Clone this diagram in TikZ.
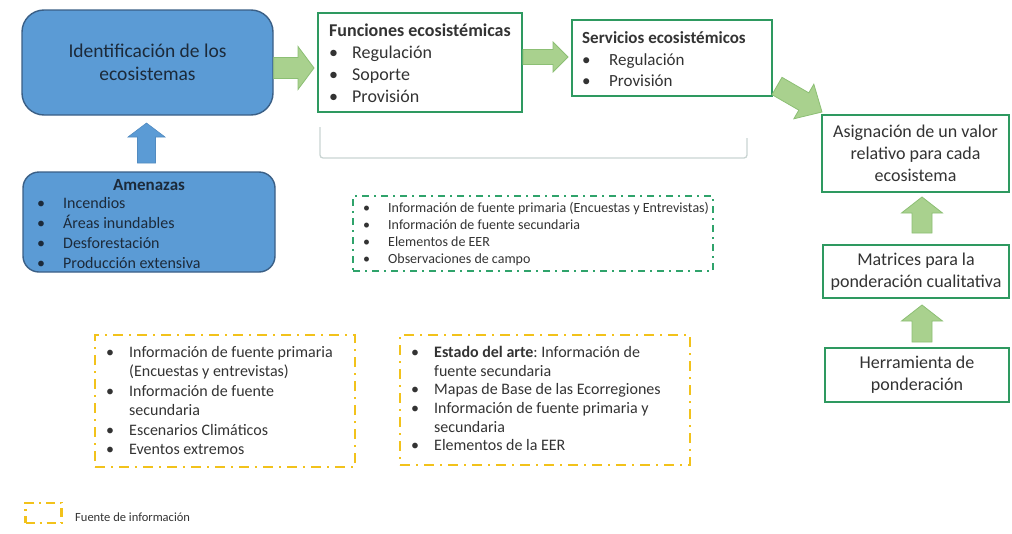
\documentclass[tikz,border=0pt]{standalone}
\usepackage{fontspec}
\setmainfont{Carlito}
\usetikzlibrary{calc}
\definecolor{bluefill}{HTML}{5B9BD5}
\definecolor{blueline}{HTML}{3A5F86}
\definecolor{bluetext}{HTML}{1C2A3A}
\definecolor{gbox}{HTML}{2E9960}
\definecolor{garrowfill}{HTML}{A9D18E}
\definecolor{garrowline}{HTML}{8CBF74}
\definecolor{gdash}{HTML}{2FA36B}
\definecolor{ydash}{HTML}{F2C21B}
\definecolor{txt}{HTML}{333333}
\definecolor{bracketc}{HTML}{C9D4D2}
\newcommand\bul[2][23pt]{\makebox[#1][l]{\textbullet}#2}
\newcommand\fs[2]{\fontsize{#1}{#2}\selectfont}
% #1 style, #2 tail, #3 tip, #4 half shaft, #5 half head, #6 head length
\newcommand\blockarrow[6]{%
  \coordinate (bah) at ($(#3)!#6!(#2)$);
  \path[#1] ($(#2)!#4!90:(#3)$) -- ($(bah)!#4!90:(#3)$) -- ($(bah)!#5!90:(#3)$)
    -- (#3) -- ($(bah)!#5!-90:(#3)$) -- ($(bah)!#4!-90:(#3)$) -- ($(#2)!#4!-90:(#3)$) -- cycle;}
\begin{document}
\begin{tikzpicture}[x=1pt,y=-1pt,
  bluebox/.style={draw=blueline,fill=bluefill,line width=1.4pt,text=bluetext,inner sep=0pt},
  greenbox/.style={draw=gbox,line width=1.8pt,fill=white,inner sep=0pt,text=txt},
  gdashbox/.style={draw=gdash,line width=2.4pt,dash pattern=on 7pt off 5pt on 2pt off 5pt,inner sep=0pt},
  ydashbox/.style={draw=ydash,line width=2.6pt,dash pattern=on 10pt off 6pt on 2pt off 6pt,inner sep=0pt},
  listtext/.style={align=left,inner sep=0pt,text=txt,anchor=west},
  garrow/.style={fill=garrowfill,draw=garrowline,line width=0.8pt,line join=miter},
  barrow/.style={fill=bluefill,draw=bluefill!90!black,line width=0.6pt}]
\useasboundingbox (0,0) rectangle (1012,533);

% blue boxes
\node[bluebox,rounded corners=22pt,minimum width=251pt,minimum height=105pt,align=center,font=\fs{19.5}{23}]
  (ident) at (147.5,62.5) {Identificación de los\\ecosistemas};
\node[bluebox,rounded corners=16pt,minimum width=252pt,minimum height=100pt] (amen) at (149,222) {};
\node[inner sep=0pt,text=bluetext,font=\fs{17}{20}\bfseries] (amentitle) at (149,185) {Amenazas};
\node[listtext,text=bluetext,font=\fs{16}{20}] (amenlist) at (37,233)
  {\bul[26pt]{Incendios}\\\bul[26pt]{Áreas inundables}\\\bul[26pt]{Desforestación}\\\bul[26pt]{Producción extensiva}};

% green boxes
\node[greenbox,minimum width=204pt,minimum height=99pt] (func) at (420,62.5) {};
\node[listtext,font=\fs{18}{22}] (funclist) at (329,63.5)
  {\textbf{Funciones ecosistémicas}\\\bul{Regulación}\\\bul{Soporte}\\\bul{Provisión}};
\node[greenbox,minimum width=200pt,minimum height=76pt] (serv) at (672,58) {};
\node[listtext,font=\fs{17}{21.5}] (servlist) at (582,59.5)
  {\textbf{Servicios ecosistémicos}\\\bul[27pt]{Regulación}\\\bul[27pt]{Provisión}};

\node[greenbox,minimum width=187pt,minimum height=77pt,align=center,font=\fs{18}{22}] (asig) at (915.5,153.5)
  {Asignación de un valor\\relativo para cada\\ecosistema};
\node[greenbox,minimum width=186pt,minimum height=53pt,align=center,font=\fs{18}{22}] (matr) at (916,271.5)
  {Matrices para la\\ponderación cualitativa};
\node[greenbox,minimum width=184pt,minimum height=54pt,align=center,font=\fs{18}{22}] (herr) at (917,375)
  {Herramienta de\\ponderación};

% bracket under functions/services
\draw[bracketc,line width=1.3pt,rounded corners=3pt] (320,127) -- (320,158) -- (747,158) -- (747,138);

% green dashed info box
\node[gdashbox,minimum width=360pt,minimum height=75pt] (ginfo) at (533,233.5) {};
\node[listtext,font=\fs{14}{17.3}] (ginfolist) at (363,234)
  {\bul[25pt]{Información de fuente primaria (Encuestas y Entrevistas)}\\
   \bul[25pt]{Información de fuente secundaria}\\
   \bul[25pt]{Elementos de EER}\\
   \bul[25pt]{Observaciones de campo}};

% yellow dashed boxes
\node[ydashbox,minimum width=260pt,minimum height=132pt] (yinfo1) at (225,401) {};
\node[listtext,font=\fs{16}{19.4}] (yinfo1list) at (106,400.5)
  {\bul{Información de fuente primaria}\\\hspace*{23pt}(Encuestas y entrevistas)\\
   \bul{Información de fuente}\\\hspace*{23pt}secundaria\\
   \bul{Escenarios Climáticos}\\\bul{Eventos extremos}};
\node[ydashbox,minimum width=290pt,minimum height=130pt] (yinfo2) at (545,400) {};
\node[listtext,font=\fs{16}{18.7}] (yinfo2list) at (411,398.5)
  {\bul{\textbf{Estado del arte}:~Información de}\\\hspace*{23pt}fuente secundaria\\
   \bul{Mapas de Base de las Ecorregiones}\\
   \bul{Información de fuente primaria y}\\\hspace*{23pt}secundaria\\
   \bul{Elementos de la EER}};

% legend
\node[ydashbox,line width=2.2pt,dash pattern=on 9pt off 5pt on 2pt off 5pt,minimum width=36pt,minimum height=20pt] (legbox) at (43.5,513) {};
\node[inner sep=0pt,anchor=west,text=txt,font=\fs{12.5}{14}] (legtext) at (75,517) {Fuente de información};

% block arrows
\coordinate (a1t) at (ident.east |- 0,68);  \coordinate (a1h) at (314,68);
\blockarrow{garrow}{a1t}{a1h}{10.5pt}{21.5pt}{16pt}
\coordinate (a2t) at (func.east |- 0,57);  \coordinate (a2h) at (568,57);
\blockarrow{garrow}{a2t}{a2h}{7.5pt}{15pt}{15pt}
\coordinate (a3t) at (777,86); \coordinate (a3h) at (822,112);
\blockarrow{garrow}{a3t}{a3h}{10pt}{20pt}{21pt}
\coordinate (a4t) at (922,233); \coordinate (a4h) at (922,197);
\blockarrow{garrow}{a4t}{a4h}{10pt}{20.5pt}{16pt}
\coordinate (a5t) at (922,342); \coordinate (a5h) at (922,305);
\blockarrow{garrow}{a5t}{a5h}{10pt}{20.5pt}{16pt}
\coordinate (a6t) at (146.5,163); \coordinate (a6h) at (146.5,123);
\blockarrow{barrow}{a6t}{a6h}{9pt}{18.5pt}{14pt}
\end{tikzpicture}
\end{document}
